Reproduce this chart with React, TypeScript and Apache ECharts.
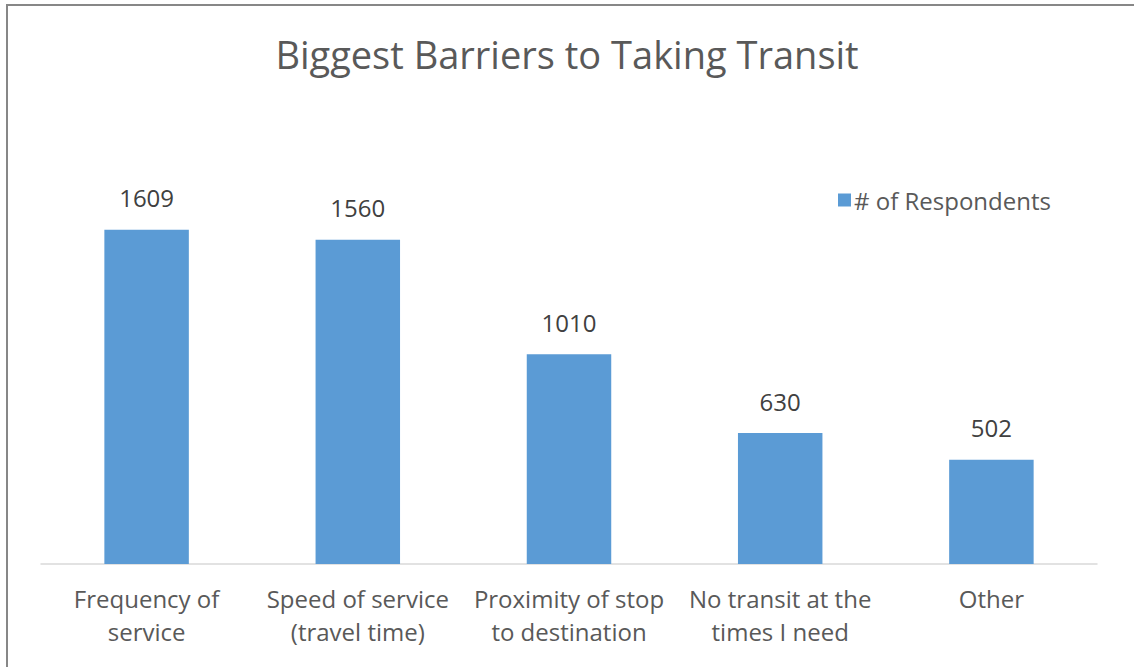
import React, { useEffect, useRef } from "react";
import * as echarts from "echarts";

const categories = [
  "Frequency of\nservice",
  "Speed of service\n(travel time)",
  "Proximity of stop\nto destination",
  "No transit at the\ntimes I need",
  "Other",
];
const respondents = [1609, 1560, 1010, 630, 502];
const seriesName = "# of Respondents";
const titleText = "Biggest Barriers to Taking Transit";

const FONT = "'Open Sans', Lato, sans-serif";

export default function App() {
  const ref = useRef<HTMLDivElement>(null);
  useEffect(() => {
    if (!ref.current) return;
    const chart = echarts.init(ref.current, undefined, { renderer: "svg" });
    chart.setOption({
      animation: false,
      backgroundColor: "#ffffff",
      textStyle: { fontFamily: FONT },
      title: {
        text: titleText,
        left: "center",
        top: 30,
        textStyle: { fontFamily: FONT, fontSize: 38, fontWeight: "normal", color: "#595959" },
      },
      legend: {
        data: [seriesName],
        left: 833,
        top: 183,
        icon: "rect",
        itemWidth: 13,
        itemHeight: 13,
        itemGap: 10,
        textStyle: { fontFamily: FONT, fontSize: 24, color: "#595959", padding: [0, 0, 0, -2] },
      },
      grid: { left: 41, right: 37, top: 190, bottom: 103 },
      xAxis: {
        type: "category",
        data: categories,
        axisLine: { lineStyle: { color: "#d9d9d9", width: 1.5 } },
        axisTick: { show: false },
        axisLabel: {
          interval: 0,
          fontFamily: FONT,
          fontSize: 24,
          color: "#595959",
          lineHeight: 33,
          margin: 18,
        },
      },
      yAxis: {
        type: "value",
        min: 0,
        max: 1800,
        show: false,
        splitLine: { show: false },
      },
      series: [
        {
          name: seriesName,
          type: "bar",
          data: respondents,
          barWidth: "40%",
          itemStyle: { color: "#5b9bd5" },
          label: {
            show: true,
            position: "top",
            distance: 20,
            fontFamily: FONT,
            fontSize: 24,
            color: "#404040",
          },
        },
      ],
      graphic: [
        {
          type: "rect",
          shape: { x: 7, y: 5, width: 1200, height: 800 },
          style: { fill: "none", stroke: "#878787", lineWidth: 2 },
          silent: true,
        },
      ],
    });
    return () => chart.dispose();
  }, []);
  return (
    <div
      ref={ref}
      style={{ position: "fixed", left: 0, top: 0, width: 1134, height: 667 }}
    />
  );
}
